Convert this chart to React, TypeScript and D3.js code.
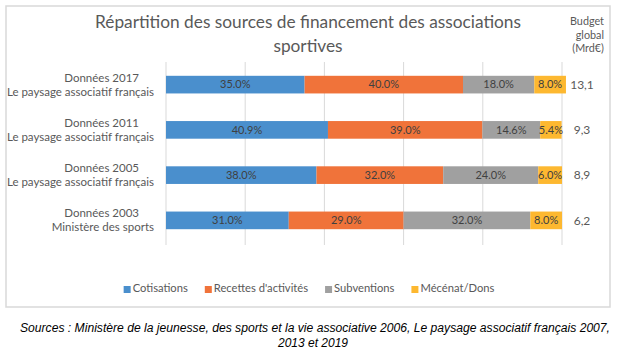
import { useEffect, useRef } from 'react';
import * as d3 from 'd3';

const sources = ['Cotisations', "Recettes d'activités", 'Subventions', 'Mécénat/Dons'];
const colors = ['#4a8fcd', '#f0733a', '#a0a0a0', '#fdb830'];

const years = ['Données 2017', 'Données 2011', 'Données 2005', 'Données 2003'];
const origins = ['Le paysage associatif français', 'Le paysage associatif français', 'Le paysage associatif français', 'Ministère des sports'];

const cotisations = [35.0, 40.9, 38.0, 31.0];
const recettes = [40.0, 39.0, 32.0, 29.0];
const subventions = [18.0, 14.6, 24.0, 32.0];
const mecenat = [8.0, 5.4, 6.0, 8.0];

const budgets = ['13,1', '9,3', '8,9', '6,2'];
const xTicks = [0, 20, 40, 60, 80, 100];

const W = 623;
const H = 354;
const FONT = 'Lato, "Open Sans", sans-serif';

export default function App() {
  const svgRef = useRef<SVGSVGElement>(null);

  useEffect(() => {
    if (!svgRef.current) return;
    const svg = d3.select(svgRef.current);
    svg.selectAll('*').remove();

    const series = [cotisations, recettes, subventions, mecenat];
    const rows = years.map((year, i) => {
      const r: any = { year };
      sources.forEach((s, k) => (r[s] = series[k][i]));
      return r;
    });
    const stacked = d3.stack<any>().keys(sources)(rows);

    const margin = { top: 62, left: 166, right: 61, bottom: 111 };
    const x = d3.scaleLinear().domain([0, 100]).range([margin.left, W - margin.right]);
    const y = d3.scaleBand().domain(years).range([margin.top, H - margin.bottom]).paddingInner(0.61).paddingOuter(0.305);

    // chart frame
    svg.append('rect')
      .attr('x', 6).attr('y', 6).attr('width', 604).attr('height', 301)
      .attr('fill', '#fff').attr('stroke', '#d9d9d9').attr('stroke-width', 1.5);

    // title
    const title = svg.append('text')
      .attr('x', 308).attr('text-anchor', 'middle')
      .attr('font-family', FONT).attr('font-size', 17.3).attr('fill', '#595959');
    title.append('tspan').attr('x', 308).attr('y', 28).text('Répartition des sources de financement des associations');
    title.append('tspan').attr('x', 308).attr('y', 52).text('sportives');

    // budget header
    const head = svg.append('text')
      .attr('text-anchor', 'end')
      .attr('font-family', FONT).attr('font-size', 10.8).attr('fill', '#595959');
    ['Budget', 'global', '(Mrd€)'].forEach((t, i) => {
      head.append('tspan').attr('x', 604).attr('y', 25 + i * 13.5).text(t);
    });

    // grid
    svg.append('g')
      .selectAll('line')
      .data(xTicks)
      .join('line')
      .attr('x1', d => x(d)).attr('x2', d => x(d))
      .attr('y1', margin.top).attr('y2', H - margin.bottom + 2)
      .attr('stroke', '#d9d9d9').attr('stroke-width', 1);

    // bars
    const g = svg.append('g');
    stacked.forEach((layer, k) => {
      g.append('g')
        .attr('fill', colors[k])
        .selectAll('rect')
        .data(layer)
        .join('rect')
        .attr('x', d => x(d[0]))
        .attr('y', d => y(d.data.year)!)
        .attr('width', d => x(d[1]) - x(d[0]))
        .attr('height', y.bandwidth());

      g.append('g')
        .selectAll('text')
        .data(layer)
        .join('text')
        .attr('x', d => (x(d[0]) + x(d[1])) / 2)
        .attr('y', d => y(d.data.year)! + y.bandwidth() / 2)
        .attr('dy', '0.35em')
        .attr('text-anchor', 'middle')
        .attr('font-family', FONT).attr('font-size', 11).attr('fill', '#404040')
        .text(d => (d[1] - d[0]).toFixed(1) + '%');
    });

    // category labels
    const labels = svg.append('g')
      .attr('font-family', FONT).attr('font-size', 11.5).attr('fill', '#595959')
      .attr('text-anchor', 'end');
    years.forEach((yr, i) => {
      const cy = y(yr)! + y.bandwidth() / 2;
      labels.append('text').attr('x', 139).attr('y', cy - 3).text(yr);
      labels.append('text').attr('x', 154).attr('y', cy + 11).text(origins[i]);
    });

    // budget values
    svg.append('g')
      .selectAll('text')
      .data(budgets)
      .join('text')
      .attr('x', 582)
      .attr('y', (_, i) => y(years[i])! + y.bandwidth() / 2)
      .attr('dy', '0.35em')
      .attr('text-anchor', 'middle')
      .attr('font-family', FONT).attr('font-size', 12).attr('fill', '#595959')
      .text(d => d);

    // legend, centred under the chart
    const legend = svg.append('g').attr('font-family', FONT).attr('font-size', 11.2).attr('fill', '#595959');
    const items = sources.map((s, k) => {
      const it = legend.append('g');
      it.append('rect').attr('width', 7).attr('height', 7).attr('y', -6).attr('fill', colors[k]);
      const t = it.append('text').attr('x', 9).attr('y', 0).text(s);
      return { it, w: 9 + (t.node() as SVGTextElement).getComputedTextLength() };
    });
    const gap = 17;
    const total = d3.sum(items, d => d.w) + gap * (items.length - 1);
    let lx = 309 - total / 2;
    items.forEach(({ it, w }) => {
      it.attr('transform', `translate(${lx},292)`);
      lx += w + gap;
    });

    // source note
    const note = svg.append('text')
      .attr('text-anchor', 'middle')
      .attr('font-family', '"Liberation Sans", Arial, sans-serif')
      .attr('font-style', 'italic').attr('font-size', 12).attr('fill', '#000');
    note.append('tspan').attr('x', 315).attr('y', 332)
      .attr('textLength', 590).attr('lengthAdjust', 'spacingAndGlyphs')
      .text('Sources : Ministère de la jeunesse, des sports et la vie associative 2006, Le paysage associatif français 2007,');
    note.append('tspan').attr('x', 313).attr('y', 347)
      .attr('textLength', 70).attr('lengthAdjust', 'spacingAndGlyphs')
      .text('2013 et 2019');
  }, []);

  return (
    <svg
      ref={svgRef}
      width={W}
      height={H}
      style={{ position: 'absolute', left: 0, top: 0, background: '#fff' }}
    />
  );
}
